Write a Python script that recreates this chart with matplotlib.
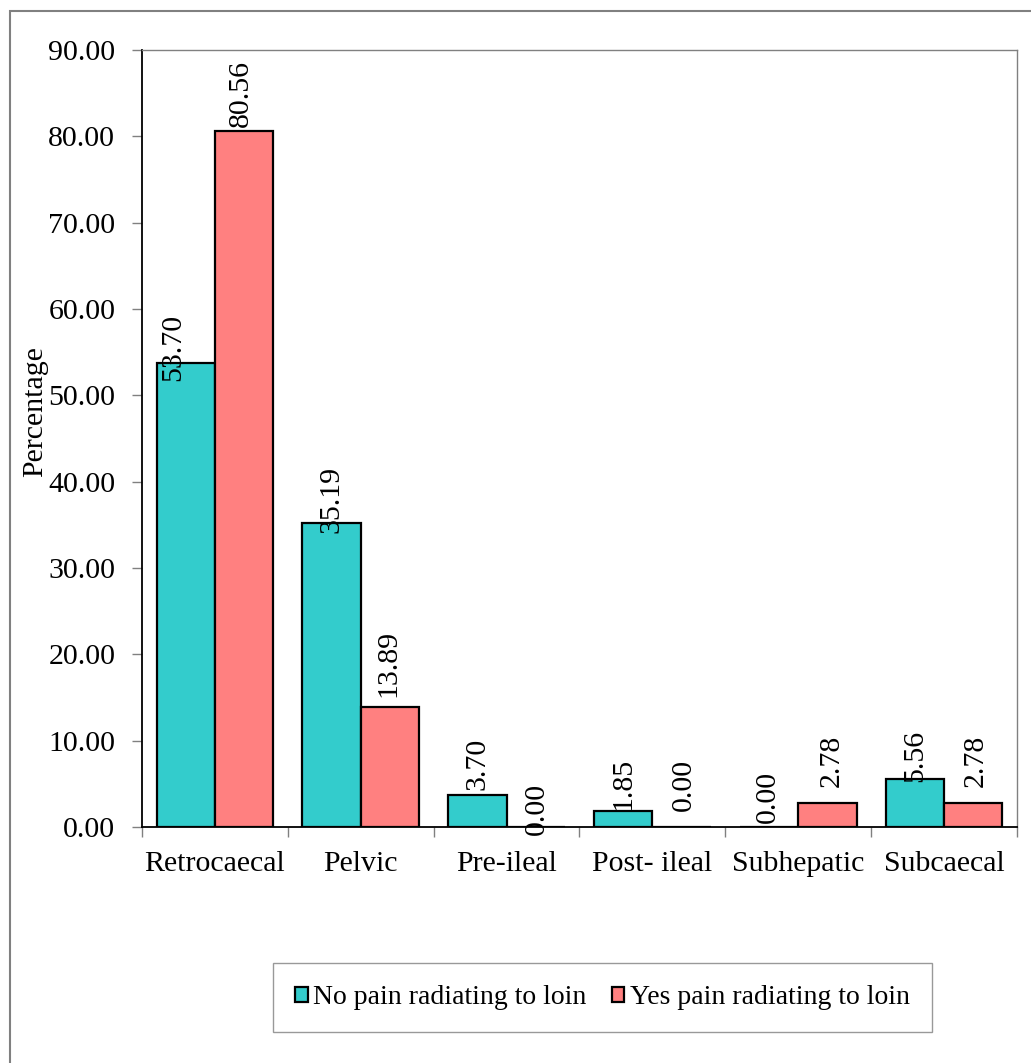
import matplotlib
matplotlib.use("Agg")
import matplotlib.pyplot as plt
from matplotlib.patches import Rectangle
import numpy as np

plt.rcParams["font.family"] = ["Liberation Serif", "DejaVu Serif"]

categories = ["Retrocaecal", "Pelvic", "Pre-ileal", "Post- ileal", "Subhepatic", "Subcaecal"]
no_pain = [53.70, 35.19, 3.70, 1.85, 0.00, 5.56]
yes_pain = [80.56, 13.89, 0.00, 0.00, 2.78, 2.78]
series_names = ["No pain radiating to loin", "Yes pain radiating to loin"]
y_ticks = [0, 10, 20, 30, 40, 50, 60, 70, 80, 90]

# value-label nudges (pixels) relative to the top of each bar
no_label_dx = [-13, 0, 0, 0, -1, 0]
no_label_dy = [-18, -10, 5, 1, 4, -3]
yes_label_dx = [-3, -2, 1, 2, 4, 3]
yes_label_dy = [4, 10, -8, 16, 16, 16]

W, H = 1031, 1063
FS = 21.5
teal = "#33CCCC"
salmon = "#FF8080"

fig = plt.figure(figsize=(W / 100, H / 100), dpi=100)
ax = fig.add_axes([142 / W, 1 - 827 / H, (1017 - 142) / W, (827 - 50) / H])

x = np.arange(len(categories))
bw = 0.4
b1 = ax.bar(x - bw / 2, no_pain, bw, color=teal, edgecolor="black", linewidth=1.6,
            label=series_names[0], zorder=3)
b2 = ax.bar(x + bw / 2, yes_pain, bw, color=salmon, edgecolor="black", linewidth=1.6,
            label=series_names[1], zorder=3)

for bars, vals, dxs, dys in ((b1, no_pain, no_label_dx, no_label_dy),
                             (b2, yes_pain, yes_label_dx, yes_label_dy)):
    for rect, v, dx, dy in zip(bars, vals, dxs, dys):
        ax.annotate(f"{v:.2f}", (rect.get_x() + rect.get_width() / 2, v),
                    xytext=(dx, dy), textcoords="offset pixels",
                    rotation=90, ha="center", va="bottom", fontsize=FS, zorder=4,
                    annotation_clip=False)

ax.set_xlim(-0.5, len(categories) - 0.5)
ax.set_ylim(0, 90)
ax.set_yticks(y_ticks)
ax.set_yticklabels([f"{t:.2f}" for t in y_ticks], fontsize=FS)
ax.tick_params(axis="y", direction="out", length=7.2, width=1, color="#808080", pad=12)

# category separators as major ticks, names on minor ticks
ax.set_xticks(np.arange(-0.5, len(categories), 1.0))
ax.set_xticklabels([])
ax.tick_params(axis="x", which="major", direction="out", length=7.2, width=1, color="#808080")
ax.set_xticks(x, minor=True)
ax.set_xticklabels(categories, minor=True, fontsize=FS)
ax.tick_params(axis="x", which="minor", length=0, pad=17)

for side in ("left", "bottom"):
    ax.spines[side].set_color("black")
    ax.spines[side].set_linewidth(1.3)
for side in ("top", "right"):
    ax.spines[side].set_color("#808080")
    ax.spines[side].set_linewidth(1.0)

fig.text(35 / W, 1 - 412 / H, "Percentage", rotation=90, ha="center", va="center",
         fontsize=FS)

leg = fig.legend(handles=[b1, b2], labels=series_names, loc="center",
                 bbox_to_anchor=(602.5 / W, 1 - 997.5 / H), ncol=2, fontsize=20,
                 frameon=True, fancybox=False, edgecolor="#808080",
                 handlelength=0.45, handleheight=0.45, handletextpad=0.2,
                 columnspacing=0.9, borderpad=0.8, borderaxespad=0)
leg.get_frame().set_linewidth(1.0)

# outer chart-area border
fig.add_artist(Rectangle((10 / W, -1), 2, 2 - 11 / H, transform=fig.transFigure,
                         fill=False, edgecolor="#808080", linewidth=1.5))

fig.savefig("out.png", dpi=100, facecolor="white")
